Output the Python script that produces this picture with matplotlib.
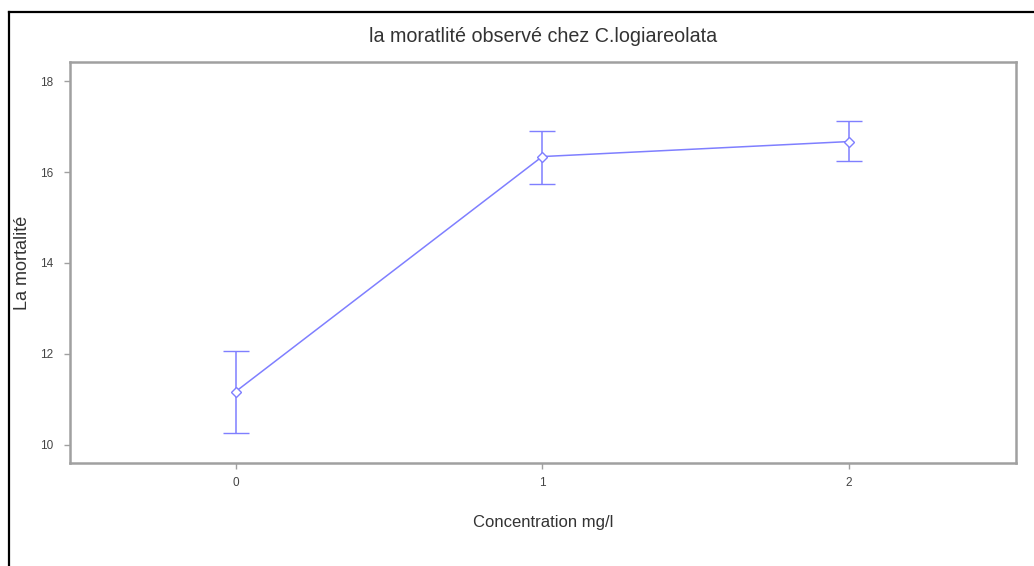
import matplotlib
matplotlib.use('Agg')
import matplotlib.pyplot as plt
from matplotlib.lines import Line2D

# Donnees
concentration = [0, 1, 2]
mortalite = [11.17, 16.34, 16.67]
borne_basse = [10.25, 15.74, 16.24]
borne_haute = [12.07, 16.91, 17.13]

err_bas = [m - b for m, b in zip(mortalite, borne_basse)]
err_haut = [h - m for m, h in zip(mortalite, borne_haute)]

plt.rcParams['font.family'] = ['Liberation Sans', 'DejaVu Sans']

fig = plt.figure(figsize=(10.34, 5.66), dpi=100)
ax = fig.add_axes([70 / 1034, 1 - 463 / 566, 946 / 1034, 401 / 566])

bleu = '#7f7fff'
ax.errorbar(concentration, mortalite, yerr=[err_bas, err_haut], color=bleu,
            linewidth=1.1, elinewidth=1.1, capsize=9.7, capthick=1.4,
            marker='D', markersize=5, markerfacecolor='white',
            markeredgecolor=bleu, markeredgewidth=1)

ax.set_xlim(-0.54, 2.545)
ax.set_ylim(9.6, 18.42)
ax.set_xticks(concentration)
ax.set_yticks([10, 12, 14, 16, 18])

for s in ax.spines.values():
    s.set_color('#a0a0a0')
    s.set_linewidth(1.8)
ax.tick_params(colors='#a0a0a0', labelcolor='#444444', labelsize=8.5,
               length=4, width=1)
ax.tick_params(axis='y', pad=8)
ax.tick_params(axis='x', pad=6)

ax.set_xlabel('Concentration mg/l', fontsize=12, color='#333333', labelpad=19)
ax.set_ylabel('La mortalité', fontsize=13, color='#333333')
ax.yaxis.set_label_coords(-39 / 946, 0.5)
fig.text(543 / 1034, 1 - 37 / 566, 'la moratlité observé chez C.logiareolata',
         ha='center', va='center', fontsize=14.2, color='#333333')

# cadre noir a gauche et en haut
fig.add_artist(Line2D([9 / 1034, 9 / 1034], [0, 1 - 12 / 566],
                      transform=fig.transFigure, color='black', linewidth=1.6))
fig.add_artist(Line2D([9 / 1034, 1], [1 - 12 / 566, 1 - 12 / 566],
                      transform=fig.transFigure, color='black', linewidth=1.6))

plt.savefig('out.png', dpi=100)
plt.close()
